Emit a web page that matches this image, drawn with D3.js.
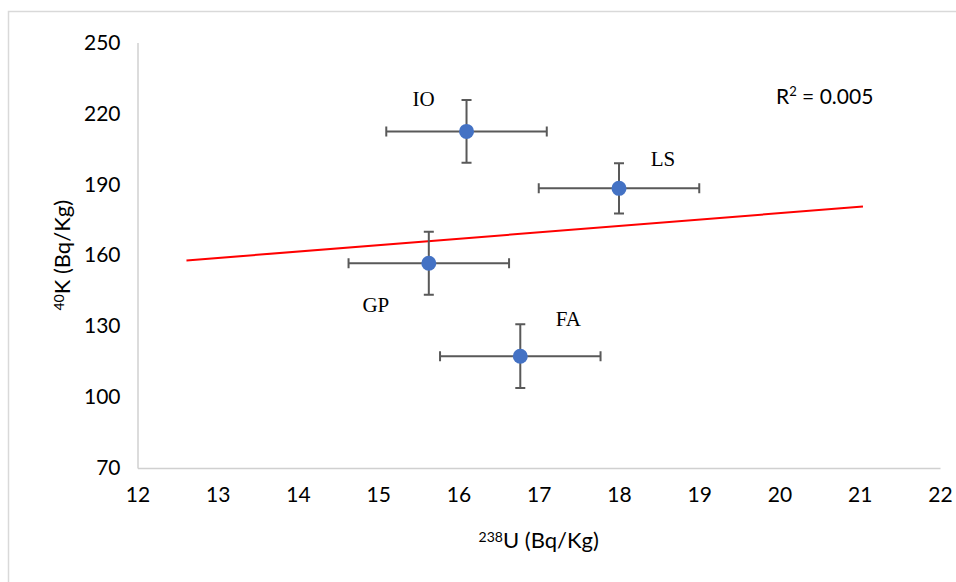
<!DOCTYPE html>
<html>
<head>
<meta charset="utf-8">
<script src="https://cdn.jsdelivr.net/npm/d3@7"></script>
<style>
    body { margin: 0; background: #fff; }
    svg { display: block; }
    .tick-label { font-family: Lato, "Liberation Sans", sans-serif; font-size: 21px; fill: #000; }
    .axis-title { font-family: Lato, "Liberation Sans", sans-serif; font-size: 22px; fill: #000; }
    .point-label { font-family: "Liberation Serif", "DejaVu Serif", serif; font-size: 21px; fill: #000; }
</style>
</head>
<body>
<script>
// samples: 238U vs 40K with uncertainties
const samples = ['IO', 'LS', 'GP', 'FA'];
const uranium = [16.1, 18.0, 15.63, 16.77];
const uraniumErr = [1.0, 1.0, 1.0, 1.0];
const potassium = [212.4, 188.3, 156.6, 117.3];
const potassiumErr = [13.3, 10.6, 13.3, 13.5];

const xTicks = [12, 13, 14, 15, 16, 17, 18, 19, 20, 21, 22];
const yTicks = [70, 100, 130, 160, 190, 220, 250];
const trendRange = [12.61, 21.04];

const width = 956, height = 582;
const margin = {left: 137.5, right: 16, top: 42.5, bottom: 114};

const svg = d3.select('body').append('svg')
    .attr('width', width)
    .attr('height', height);

// chart frame
svg.append('rect')
    .attr('x', 8.5).attr('y', 11.5)
    .attr('width', 980).attr('height', 600)
    .attr('fill', 'none')
    .attr('stroke', '#d9d9d9')
    .attr('stroke-width', 1.5);

const x = d3.scaleLinear().domain([12, 22]).range([margin.left, width - margin.right]);
const y = d3.scaleLinear().domain([70, 250]).range([height - margin.bottom, margin.top]);

// axes (no ticks, just the lines + labels)
const xAxis = svg.append('g')
    .attr('transform', `translate(0,${y(70)})`)
    .call(d3.axisBottom(x).tickValues(xTicks).tickSize(0).tickPadding(21).tickFormat(d3.format('d')));
const yAxis = svg.append('g')
    .attr('transform', `translate(${x(12)},0)`)
    .call(d3.axisLeft(y).tickValues(yTicks).tickSize(0).tickPadding(17).tickFormat(d3.format('d')));

[xAxis, yAxis].forEach(a => {
    a.select('.domain').attr('stroke', '#d0d0d0').attr('stroke-width', 1.5);
    a.selectAll('text').attr('class', 'tick-label').attr('font-family', null).attr('font-size', null);
});
yAxis.selectAll('text').attr('dy', '0.32em');
xAxis.selectAll('text').attr('dy', '0.6em');

// axis titles
const xt = svg.append('text').attr('class', 'axis-title')
    .attr('x', (x(12) + x(22)) / 2).attr('y', 548)
    .attr('text-anchor', 'middle');
xt.append('tspan').attr('font-size', 14).attr('dy', -6).text('238');
xt.append('tspan').attr('dy', 6).text('U (Bq/Kg)');

const yt = svg.append('text').attr('class', 'axis-title')
    .attr('transform', `translate(70,${(y(70) + y(250)) / 2}) rotate(-90)`)
    .attr('text-anchor', 'middle');
yt.append('tspan').attr('font-size', 14).attr('dy', -6).text('40');
yt.append('tspan').attr('dy', 6).text('K (Bq/Kg)');

// linear regression for the trend line
const n = uranium.length;
const mx = d3.mean(uranium), my = d3.mean(potassium);
let sxy = 0, sxx = 0, syy = 0;
for(let i = 0; i < n; i++){
    sxy += (uranium[i] - mx) * (potassium[i] - my);
    sxx += (uranium[i] - mx) ** 2;
    syy += (potassium[i] - my) ** 2;
}
const slope = sxy / sxx, intercept = my - slope * mx;
const r2 = (sxy * sxy) / (sxx * syy);

svg.append('line')
    .attr('x1', x(trendRange[0])).attr('y1', y(intercept + slope * trendRange[0]))
    .attr('x2', x(trendRange[1])).attr('y2', y(intercept + slope * trendRange[1]))
    .attr('stroke', '#ff0000')
    .attr('stroke-width', 2);

const r2Text = svg.append('text').attr('class', 'tick-label')
    .attr('x', 776).attr('y', 104);
r2Text.append('tspan').text('R');
r2Text.append('tspan').attr('font-size', 13).attr('dy', -8).text('2');
r2Text.append('tspan').attr('dy', 8).text(' = ' + r2.toFixed(3));

// error bars
const data = samples.map((s, i) => ({
    name: s, u: uranium[i], ue: uraniumErr[i], k: potassium[i], ke: potassiumErr[i]
}));
const cap = 5;
const bars = svg.append('g').attr('stroke', '#595959').attr('stroke-width', 2).attr('fill', 'none');
bars.selectAll('path.err')
    .data(data)
    .enter()
    .append('path')
    .attr('class', 'err')
    .attr('d', d => {
        let cx = x(d.u), cy = y(d.k),
            x0 = x(d.u - d.ue), x1 = x(d.u + d.ue),
            y0 = y(d.k + d.ke), y1 = y(d.k - d.ke);
        return `M ${x0} ${cy} L ${x1} ${cy} M ${x0} ${cy - cap} L ${x0} ${cy + cap} M ${x1} ${cy - cap} L ${x1} ${cy + cap}`
            + ` M ${cx} ${y0} L ${cx} ${y1} M ${cx - cap} ${y0} L ${cx + cap} ${y0} M ${cx - cap} ${y1} L ${cx + cap} ${y1}`;
    });

svg.selectAll('circle.pt')
    .data(data)
    .enter()
    .append('circle')
    .attr('class', 'pt')
    .attr('cx', d => x(d.u))
    .attr('cy', d => y(d.k))
    .attr('r', 7.5)
    .attr('fill', '#4472c4');

// sample labels, offset from each point
const labelOffset = {IO: [-43, -33], LS: [44, -30], GP: [-53, 41], FA: [48, -38]};
svg.selectAll('text.point-label')
    .data(data)
    .enter()
    .append('text')
    .attr('class', 'point-label')
    .attr('x', d => x(d.u) + labelOffset[d.name][0])
    .attr('y', d => y(d.k) + labelOffset[d.name][1])
    .attr('text-anchor', 'middle')
    .attr('dy', '0.35em')
    .text(d => d.name);
</script>
</body>
</html>
